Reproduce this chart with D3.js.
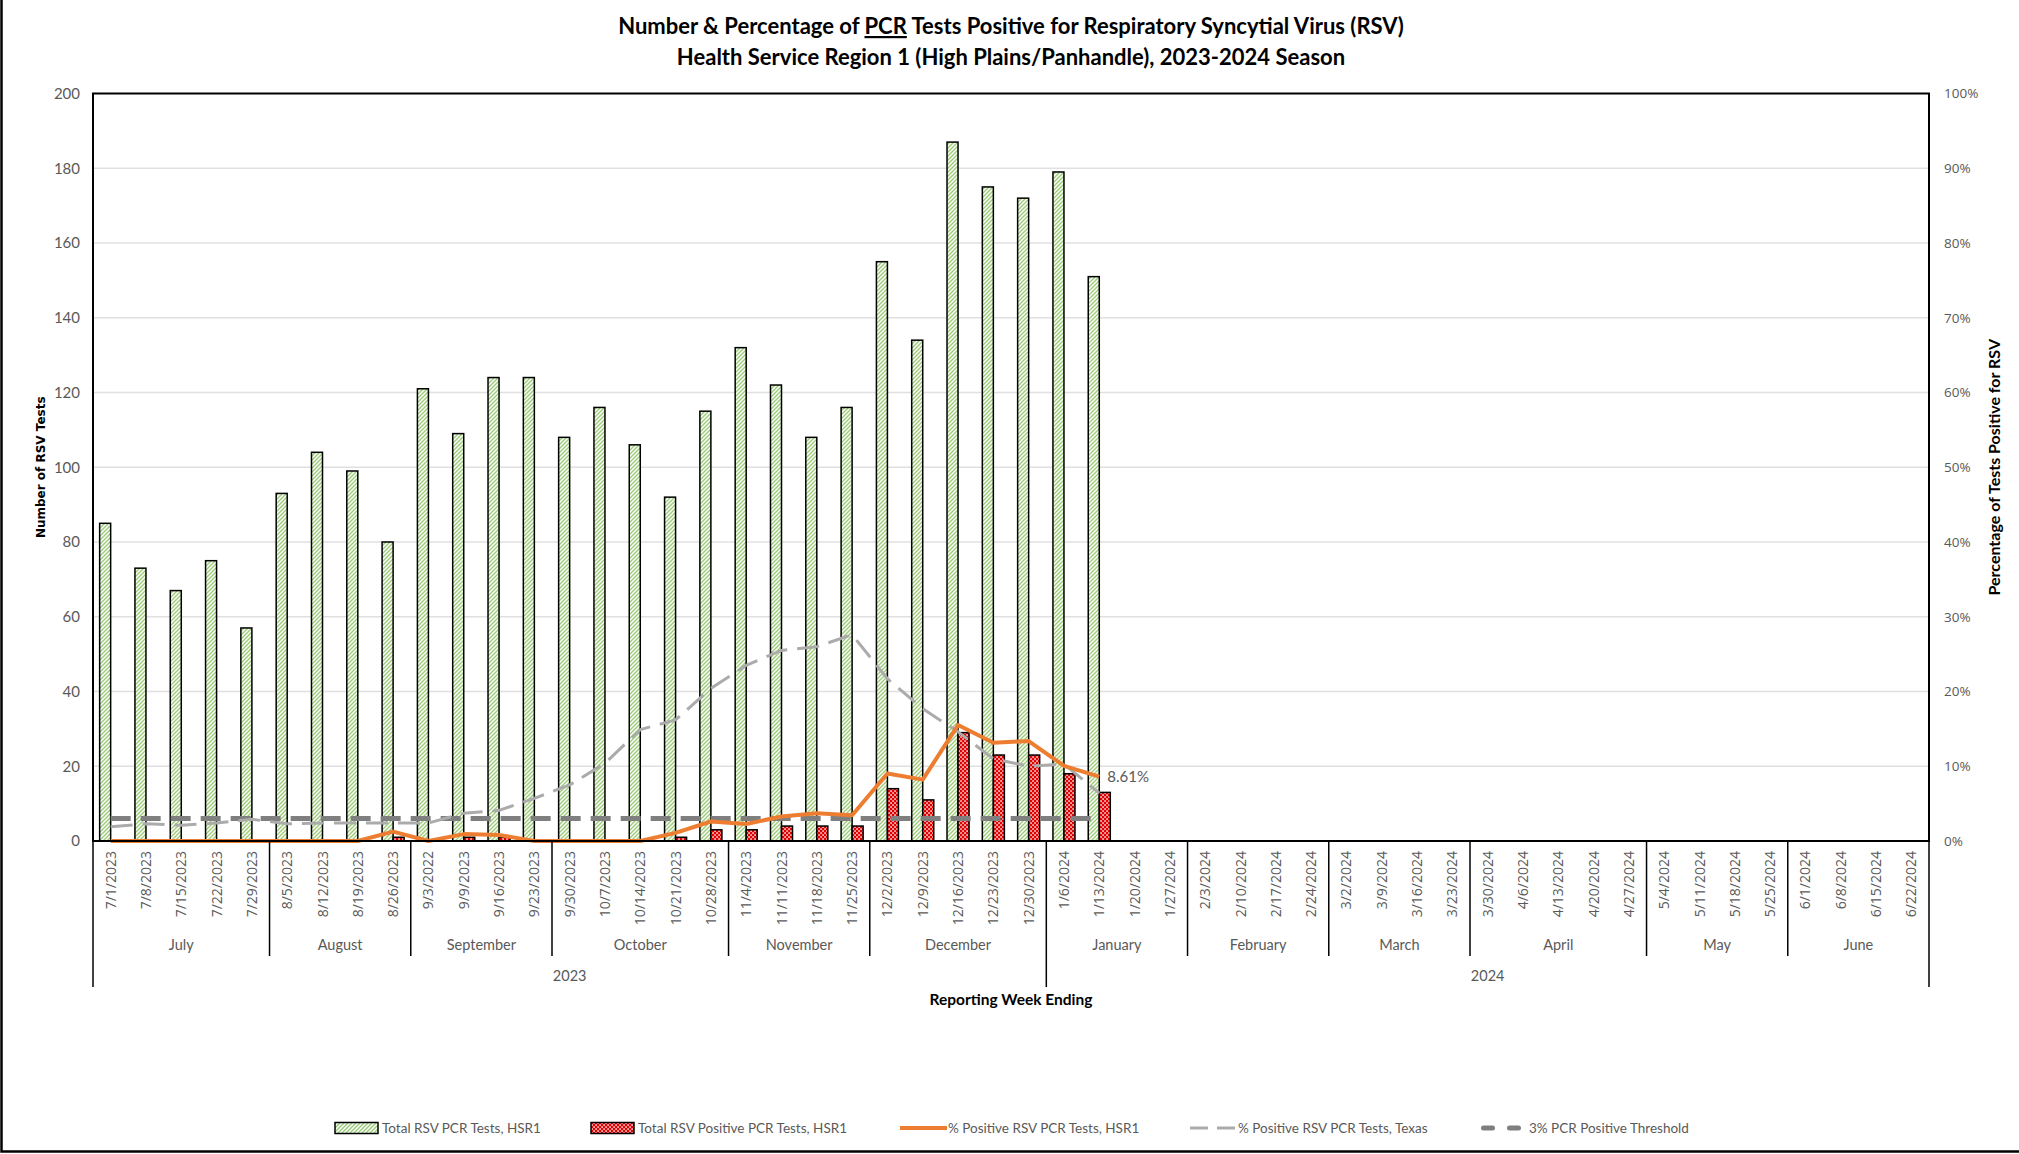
<!DOCTYPE html>
<html>
<head>
<meta charset="utf-8">
<script src="https://cdn.jsdelivr.net/npm/d3@7"></script>
<style>
  body { margin: 0; background: #fff; }
  text { font-family: Lato, "Open Sans", sans-serif; }
</style>
</head>
<body>
<svg id="chart"></svg>
<script>
// weekly categories (reporting week ending)
var weekLabels = [
  "7/1/2023","7/8/2023","7/15/2023","7/22/2023","7/29/2023",
  "8/5/2023","8/12/2023","8/19/2023","8/26/2023",
  "9/3/2022","9/9/2023","9/16/2023","9/23/2023",
  "9/30/2023","10/7/2023","10/14/2023","10/21/2023","10/28/2023",
  "11/4/2023","11/11/2023","11/18/2023","11/25/2023",
  "12/2/2023","12/9/2023","12/16/2023","12/23/2023","12/30/2023",
  "1/6/2024","1/13/2024","1/20/2024","1/27/2024",
  "2/3/2024","2/10/2024","2/17/2024","2/24/2024",
  "3/2/2024","3/9/2024","3/16/2024","3/23/2024",
  "3/30/2024","4/6/2024","4/13/2024","4/20/2024","4/27/2024",
  "5/4/2024","5/11/2024","5/18/2024","5/25/2024",
  "6/1/2024","6/8/2024","6/15/2024","6/22/2024"
];
var monthNames = ["July","August","September","October","November","December","January","February","March","April","May","June"];
var monthWeeks = [5,4,4,5,4,5,4,4,4,5,4,4];
var yearNames = ["2023","2024"];
var yearWeeks = [27,25];

// series (only reported weeks so far)
var totalTests    = [85,73,67,75,57, 93,104,99,80, 121,109,124,124, 108,116,106,92,115, 132,122,108,116, 155,134,187,175,172, 179,151];
var positiveTests = [0,0,0,0,0, 0,0,0,1, 0,1,1,0, 0,0,0,1,3, 3,4,4,4, 14,11,29,23,23, 18,13];
var pctHSR1       = [0,0,0,0,0, 0,0,0,1.25, 0,0.92,0.81,0, 0,0,0,1.09,2.61, 2.27,3.28,3.70,3.45, 9.03,8.21,15.51,13.14,13.37, 10.06,8.61];
var pctTexas      = [1.9,2.3,2.1,2.4,2.9, 2.3,2.4,2.4,2.4, 2.4,3.7,4.1,5.7, 7.5,10.4,14.9,16.2,20.4, 23.5,25.5,26.0,27.6, 21.7,17.7,14.6,11.0,10.0, 10.3,6.4];
var pctThreshold  = [3,3,3,3,3, 3,3,3,3, 3,3,3,3, 3,3,3,3,3, 3,3,3,3, 3,3,3,3,3, 3,3];

var countTicks = [0,20,40,60,80,100,120,140,160,180,200];
var pctTicks = [0,10,20,30,40,50,60,70,80,90,100];

var chart_width = 2019;
var chart_height = 1154;
var plot = { left: 93, right: 1929, top: 93.5, bottom: 841 };

var svg = d3.select("#chart")
  .attr("width", chart_width)
  .attr("height", chart_height);

// patterns for the bars
var defs = svg.append("defs");
var hatch = defs.append("pattern")
  .attr("id", "hatch")
  .attr("patternUnits", "userSpaceOnUse")
  .attr("width", 4).attr("height", 4);
hatch.append("rect").attr("width", 4).attr("height", 4).attr("fill", "#ffffff");
hatch.append("path")
  .attr("d", "M-1,1 l2,-2 M0,4 l4,-4 M3,5 l2,-2")
  .attr("stroke", "#9ccc78").attr("stroke-width", 1.4);

var dots = defs.append("pattern")
  .attr("id", "dots")
  .attr("patternUnits", "userSpaceOnUse")
  .attr("width", 4).attr("height", 4);
dots.append("rect").attr("width", 4).attr("height", 4).attr("fill", "#e00000");
dots.append("rect").attr("x", 0.3).attr("y", 0.3).attr("width", 1.5).attr("height", 1.5).attr("fill", "#ffffff");
dots.append("rect").attr("x", 2.3).attr("y", 2.3).attr("width", 1.5).attr("height", 1.5).attr("fill", "#ffffff");

// outer chart frame (left and bottom visible)
svg.append("rect")
  .attr("x", 1.5).attr("y", -10)
  .attr("width", chart_width + 20).attr("height", 1161.5)
  .attr("fill", "none").attr("stroke", "#000").attr("stroke-width", 2.5);

// scales
var x = d3.scaleBand()
  .domain(weekLabels)
  .range([plot.left, plot.right])
  .paddingInner(0.376)
  .paddingOuter(0.188);

var xSub = d3.scaleBand()
  .domain(["total", "positive"])
  .range([0, x.bandwidth()]);

var yCount = d3.scaleLinear().domain([0, 200]).range([plot.bottom, plot.top]);
var yPct = d3.scaleLinear().domain([0, 100]).range([plot.bottom, plot.top]);

function cx(i) { return x(weekLabels[i]) + x.bandwidth() / 2; }
function edge(k) { return plot.left + x.step() * k; }

// gridlines
svg.append("g")
  .selectAll("line")
  .data(countTicks.filter(function(d) { return d > 0 && d < 200; }))
  .enter()
  .append("line")
  .attr("x1", plot.left).attr("x2", plot.right)
  .attr("y1", function(d) { return yCount(d); })
  .attr("y2", function(d) { return yCount(d); })
  .attr("stroke", "#e0e0e0").attr("stroke-width", 1.5);

// left axis labels
var leftAxis = svg.append("g")
  .attr("transform", "translate(" + (plot.left - 13) + ",0)")
  .call(d3.axisLeft(yCount).tickValues(countTicks).tickSize(0).tickPadding(0));
leftAxis.select(".domain").remove();
leftAxis.selectAll("text")
  .style("font-family", "Lato, sans-serif")
  .style("font-size", "15px")
  .attr("fill", "#595959");

// right axis labels
var rightAxis = svg.append("g")
  .attr("transform", "translate(" + (plot.right + 15) + ",0)")
  .call(d3.axisRight(yPct).tickValues(pctTicks).tickSize(0).tickPadding(0)
    .tickFormat(function(d) { return d + "%"; }));
rightAxis.select(".domain").remove();
rightAxis.selectAll("text")
  .style("font-family", "'Open Sans', sans-serif")
  .style("font-size", "13.5px")
  .attr("fill", "#595959");

// bars
var barData = totalTests.map(function(d, i) {
  return { week: weekLabels[i], total: d, positive: positiveTests[i] };
});

svg.append("g")
  .selectAll("rect")
  .data(barData)
  .enter()
  .append("rect")
  .attr("x", function(d) { return x(d.week) + xSub("total"); })
  .attr("y", function(d) { return yCount(d.total); })
  .attr("width", xSub.bandwidth())
  .attr("height", function(d) { return plot.bottom - yCount(d.total); })
  .attr("fill", "url(#hatch)")
  .attr("stroke", "#000").attr("stroke-width", 1.5);

svg.append("g")
  .selectAll("rect")
  .data(barData.filter(function(d) { return d.positive > 0; }))
  .enter()
  .append("rect")
  .attr("x", function(d) { return x(d.week) + xSub("positive"); })
  .attr("y", function(d) { return yCount(d.positive); })
  .attr("width", xSub.bandwidth())
  .attr("height", function(d) { return plot.bottom - yCount(d.positive); })
  .attr("fill", "url(#dots)")
  .attr("stroke", "#000").attr("stroke-width", 1.5);

// lines
var pctLine = d3.line()
  .defined(function(d) { return d != null; })
  .x(function(d, i) { return cx(i); })
  .y(function(d) { return yPct(d); });

svg.append("path")
  .datum(pctThreshold)
  .attr("fill", "none")
  .attr("stroke", "#7f7f7f")
  .attr("stroke-width", 5)
  .attr("stroke-dasharray", "20,10")
  .attr("d", pctLine);

svg.append("path")
  .datum(pctTexas)
  .attr("fill", "none")
  .attr("stroke", "#ababab")
  .attr("stroke-width", 3)
  .attr("stroke-dasharray", "22,10")
  .attr("stroke-linejoin", "round")
  .attr("d", pctLine);

svg.append("path")
  .datum(pctHSR1)
  .attr("fill", "none")
  .attr("stroke", "#ed7d31")
  .attr("stroke-width", 4)
  .attr("stroke-linejoin", "round")
  .attr("d", pctLine);

// label on the last reported week
var lastIdx = pctHSR1.length - 1;
svg.append("text")
  .attr("x", cx(lastIdx) + 8)
  .attr("y", yPct(pctHSR1[lastIdx]) + 5)
  .style("font-size", "15px")
  .attr("fill", "#595959")
  .text(d3.format(".2f")(pctHSR1[lastIdx]) + "%");

// plot frame
svg.append("rect")
  .attr("x", plot.left).attr("y", plot.top)
  .attr("width", plot.right - plot.left)
  .attr("height", plot.bottom - plot.top)
  .attr("fill", "none").attr("stroke", "#000").attr("stroke-width", 2);

// week labels
svg.append("g")
  .selectAll("text")
  .data(weekLabels)
  .enter()
  .append("text")
  .attr("transform", function(d, i) {
    return "translate(" + (cx(i) + 5) + "," + (plot.bottom + 10) + ") rotate(-90)";
  })
  .attr("text-anchor", "end")
  .style("font-family", "'Open Sans', sans-serif")
  .style("font-size", "14px")
  .attr("fill", "#595959")
  .text(function(d) { return d; });

// month and year groups
var monthStart = [0];
monthWeeks.forEach(function(n, i) { monthStart.push(monthStart[i] + n); });
var yearStart = [0];
yearWeeks.forEach(function(n, i) { yearStart.push(yearStart[i] + n); });

svg.append("g")
  .selectAll("line")
  .data(monthStart)
  .enter()
  .append("line")
  .attr("x1", function(d) { return edge(d); })
  .attr("x2", function(d) { return edge(d); })
  .attr("y1", plot.bottom)
  .attr("y2", function(d) { return yearStart.indexOf(d) >= 0 ? 987 : 956; })
  .attr("stroke", "#000").attr("stroke-width", 1.5);

svg.append("g")
  .selectAll("text")
  .data(monthNames)
  .enter()
  .append("text")
  .attr("x", function(d, i) { return (edge(monthStart[i]) + edge(monthStart[i + 1])) / 2; })
  .attr("y", 950)
  .attr("text-anchor", "middle")
  .style("font-size", "14.5px")
  .attr("fill", "#595959")
  .text(function(d) { return d; });

svg.append("g")
  .selectAll("text")
  .data(yearNames)
  .enter()
  .append("text")
  .attr("x", function(d, i) { return (edge(yearStart[i]) + edge(yearStart[i + 1])) / 2; })
  .attr("y", 981)
  .attr("text-anchor", "middle")
  .style("font-size", "14.5px")
  .attr("fill", "#595959")
  .text(function(d) { return d; });

// axis titles
svg.append("text")
  .attr("x", (plot.left + plot.right) / 2)
  .attr("y", 1005)
  .attr("text-anchor", "middle")
  .style("font-size", "15.5px")
  .style("font-weight", "bold")
  .text("Reporting Week Ending");

svg.append("text")
  .attr("transform", "translate(45," + ((plot.top + plot.bottom) / 2) + ") rotate(-90)")
  .attr("text-anchor", "middle")
  .style("font-family", "'DejaVu Sans', sans-serif")
  .style("font-size", "12px")
  .style("font-weight", "bold")
  .text("Number of RSV Tests");

svg.append("text")
  .attr("transform", "translate(2000," + ((plot.top + plot.bottom) / 2) + ") rotate(-90)")
  .attr("text-anchor", "middle")
  .style("font-size", "16px")
  .style("font-weight", "bold")
  .text("Percentage of Tests Positive for RSV");

// title
var title = svg.append("text")
  .attr("x", 1011)
  .attr("y", 34)
  .attr("text-anchor", "middle")
  .style("font-size", "22px")
  .style("font-weight", "bold");
title.append("tspan").text("Number & Percentage of ");
title.append("tspan").style("text-decoration", "underline").text("PCR");
title.append("tspan").text(" Tests Positive for Respiratory Syncytial Virus (RSV)");

svg.append("text")
  .attr("x", 1011)
  .attr("y", 65)
  .attr("text-anchor", "middle")
  .style("font-size", "22px")
  .style("font-weight", "bold")
  .text("Health Service Region 1 (High Plains/Panhandle), 2023-2024 Season");

// legend
var legendY = 1128;
var legendItems = [
  { label: "Total RSV PCR Tests, HSR1", type: "hatch", x: 335 },
  { label: "Total RSV Positive PCR Tests, HSR1", type: "dots", x: 591 },
  { label: "% Positive RSV PCR Tests, HSR1", type: "orange", x: 900 },
  { label: "% Positive RSV PCR Tests, Texas", type: "texas", x: 1190 },
  { label: "3% PCR Positive Threshold", type: "threshold", x: 1481 }
];

var legend = svg.append("g");
legendItems.forEach(function(item) {
  var g = legend.append("g").attr("transform", "translate(" + item.x + "," + legendY + ")");
  if (item.type === "hatch" || item.type === "dots") {
    g.append("rect")
      .attr("x", 0).attr("y", -5.5)
      .attr("width", 43).attr("height", 11)
      .attr("fill", "url(#" + item.type + ")")
      .attr("stroke", "#000").attr("stroke-width", 1.5);
  } else if (item.type === "orange") {
    g.append("line").attr("x1", 0).attr("x2", 47)
      .attr("stroke", "#ed7d31").attr("stroke-width", 4);
  } else if (item.type === "texas") {
    g.append("line").attr("x1", 0).attr("x2", 45)
      .attr("stroke", "#ababab").attr("stroke-width", 3)
      .attr("stroke-dasharray", "18,9");
  } else {
    g.append("line").attr("x1", 2.5).attr("x2", 42)
      .attr("stroke", "#7f7f7f").attr("stroke-width", 5)
      .attr("stroke-linecap", "round")
      .attr("stroke-dasharray", "9,17");
  }
  g.append("text")
    .attr("x", item.type === "hatch" || item.type === "dots" ? 47 : 48)
    .attr("y", 5)
    .style("font-size", "13.5px")
    .attr("fill", "#595959")
    .text(item.label);
});
</script>
</body>
</html>
